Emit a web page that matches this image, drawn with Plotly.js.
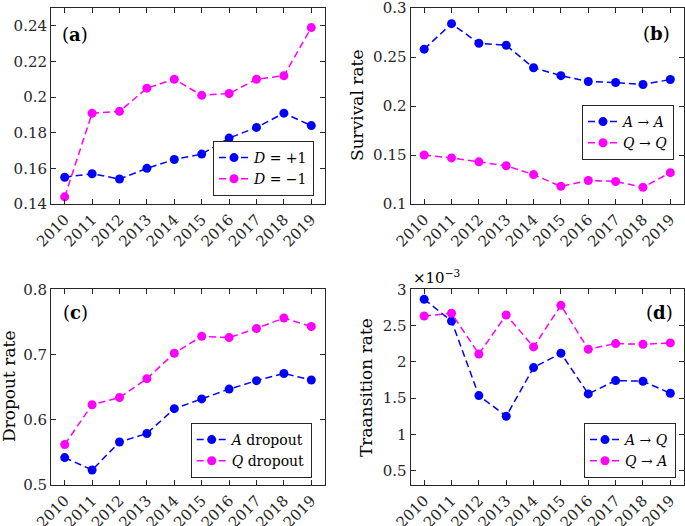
<!DOCTYPE html>
<html>
<head>
<meta charset="utf-8">
<script src="https://cdn.plot.ly/plotly-3.0.1.min.js"></script>
<style>html,body{margin:0;padding:0;background:#fff;}#chart{width:685px;height:526px;}</style>
</head>
<body>
<div id="chart"></div>
<script>
const years = [2010, 2011, 2012, 2013, 2014, 2015, 2016, 2017, 2018, 2019];
const yearLabels = ["2010","2011","2012","2013","2014","2015","2016","2017","2018","2019"];

// (a)
const dPlus  = [0.155, 0.157, 0.154, 0.160, 0.165, 0.168, 0.177, 0.183, 0.191, 0.184];
const dMinus = [0.144, 0.191, 0.192, 0.205, 0.210, 0.201, 0.202, 0.210, 0.212, 0.239];
// (b)
const survA = [0.258, 0.284, 0.264, 0.262, 0.239, 0.231, 0.225, 0.224, 0.222, 0.227];
const survQ = [0.150, 0.147, 0.143, 0.139, 0.130, 0.118, 0.124, 0.123, 0.117, 0.132];
// (c)
const dropA = [0.542, 0.523, 0.566, 0.579, 0.617, 0.632, 0.647, 0.660, 0.671, 0.661];
const dropQ = [0.562, 0.623, 0.634, 0.663, 0.702, 0.728, 0.726, 0.740, 0.756, 0.743];
// (d) values in units of 1e-3
const transAQ = [2.862, 2.563, 1.534, 1.249, 1.920, 2.118, 1.557, 1.741, 1.732, 1.566];
const transQA = [2.632, 2.669, 2.108, 2.646, 2.205, 2.779, 2.173, 2.251, 2.242, 2.260];

const ticksA = [0.14, 0.16, 0.18, 0.2, 0.22, 0.24];
const ticksAText = ["0.14","0.16","0.18","0.2","0.22","0.24"];
const ticksB = [0.1, 0.15, 0.2, 0.25, 0.3];
const ticksBText = ["0.1","0.15","0.2","0.25","0.3"];
const ticksC = [0.5, 0.6, 0.7, 0.8];
const ticksCText = ["0.5","0.6","0.7","0.8"];
const ticksD = [0.5, 1, 1.5, 2, 2.5, 3];
const ticksDText = ["0.5","1","1.5","2","2.5","3"];

const BLUE = "#0000FF", MAG = "#FF00FF";
const FONT = "'DejaVu Serif', serif";
const DASH = "7px,4px";

function tr(y, color, name, ax, leg) {
  return {
    x: years, y: y, name: name, type: "scatter", mode: "lines+markers",
    xaxis: "x" + ax, yaxis: "y" + ax, legend: leg,
    line: {color: color, width: 1.5, dash: DASH},
    marker: {color: color, size: 9}
  };
}

const data = [
  tr(dPlus, BLUE, "<i>D</i> = +1", "", "legend"),
  tr(dMinus, MAG, "<i>D</i> = −1", "", "legend"),
  tr(survA, BLUE, "<i>A</i> → <i>A</i>", "2", "legend2"),
  tr(survQ, MAG, "<i>Q</i> → <i>Q</i>", "2", "legend2"),
  tr(dropA, BLUE, "<i>A</i> dropout", "3", "legend3"),
  tr(dropQ, MAG, "<i>Q</i> dropout", "3", "legend3"),
  tr(transAQ, BLUE, "<i>A</i> → <i>Q</i>", "4", "legend4"),
  tr(transQA, MAG, "<i>Q</i> → <i>A</i>", "4", "legend4")
];

const AXC = "#262626";
function xax(domain, anchor) {
  return {
    domain: domain, anchor: anchor, range: [2009.5, 2019.5],
    tickvals: years, ticktext: yearLabels, tickangle: -45,
    ticks: "inside", ticklen: 5, tickcolor: AXC, mirror: "ticks",
    showline: true, linecolor: AXC, linewidth: 1, showgrid: false, zeroline: false,
    ticklabeloverflow: "allow",
    tickfont: {family: FONT, size: 15, color: AXC}
  };
}
function yax(domain, anchor, range, tv, tt) {
  return {
    domain: domain, anchor: anchor, range: range,
    tickvals: tv, ticktext: tt,
    ticks: "inside", ticklen: 5, tickcolor: AXC, mirror: "ticks",
    showline: true, linecolor: AXC, linewidth: 1, showgrid: false, zeroline: false,
    ticklabeloverflow: "allow",
    tickfont: {family: FONT, size: 15, color: AXC}
  };
}

const W = 685, H = 526;
const xL = [51 / W, 325 / W];
const xR = [410.5 / W, 684 / W];
const yT = [1 - 204 / H, 1 - 8 / H];
const yB = [1 - 485 / H, 1 - 289.3 / H];

function leg(x, y, xa, ya) {
  return {
    x: x, y: y, xanchor: xa, yanchor: ya, xref: "paper", yref: "paper",
    bgcolor: "#ffffff", bordercolor: AXC, borderwidth: 1,
    font: {family: FONT, size: 14, color: "#000"},
    itemwidth: 30, tracegroupgap: 0
  };
}

function ann(text, x, y, size, extra) {
  return Object.assign({
    text: text, x: x, y: y, xref: "paper", yref: "paper",
    showarrow: false, font: {family: FONT, size: size, color: "#000"},
    xanchor: "center", yanchor: "middle"
  }, extra || {});
}

const layout = {
  width: W, height: H,
  margin: {l: 0, r: 0, t: 0, b: 0},
  paper_bgcolor: "#fff", plot_bgcolor: "#fff",
  font: {family: FONT, color: AXC},
  xaxis: xax(xL, "y"), yaxis: yax(yT, "x", [0.14, 0.25], ticksA, ticksAText),
  xaxis2: xax(xR, "y2"), yaxis2: yax(yT, "x2", [0.1, 0.30001], ticksB, ticksBText),
  xaxis3: xax(xL, "y3"), yaxis3: yax(yB, "x3", [0.5, 0.80001], ticksC, ticksCText),
  xaxis4: xax(xR, "y4"), yaxis4: yax(yB, "x4", [0.3, 3.0001], ticksD, ticksDText),
  legend: leg(314 / W, 1 - 196 / H, "right", "bottom"),
  legend2: leg(674 / W, 1 - 105 / H, "right", "top"),
  legend3: leg(311.7 / W, 1 - 478 / H, "right", "bottom"),
  legend4: leg(676 / W, 1 - 478 / H, "right", "bottom"),
  annotations: [
    ann("(<b>a</b>)", 75 / W, 1 - 34 / H, 18),
    ann("(<b>b</b>)", 656 / W, 1 - 33 / H, 18),
    ann("(<b>c</b>)", 75 / W, 1 - 312 / H, 18),
    ann("(<b>d</b>)", 659 / W, 1 - 312 / H, 18),
    ann("Survival rate", 357 / W, 1 - 105 / H, 17, {textangle: -90}),
    ann("Dropout rate", 9 / W, 1 - 387 / H, 17, {textangle: -90}),
    ann("Traansition rate", 366 / W, 1 - 387 / H, 17, {textangle: -90}),
    ann("×10<sup>−3</sup>", 411 / W, 1 - 277 / H, 15, {xanchor: "left"})
  ]
};

Plotly.newPlot("chart", data, layout, {staticPlot: true, displayModeBar: false});
</script>
</body>
</html>
